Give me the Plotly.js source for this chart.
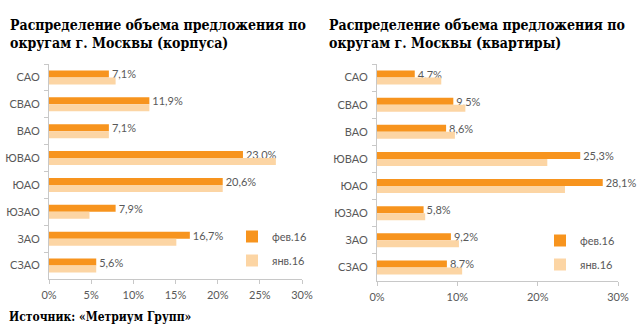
<!DOCTYPE html>
<html>
<head>
<meta charset="utf-8">
<script src="https://cdn.plot.ly/plotly-3.0.1.min.js"></script>
<style>html,body{margin:0;padding:0;background:#fff;}#chart{width:643px;height:329px;}</style>
</head>
<body>
<div id="chart"></div>
<script>
const districts = ['САО','СВАО','ВАО','ЮВАО','ЮАО','ЮЗАО','ЗАО','СЗАО'];
const seriesNames = ['фев.16','янв.16'];
const korpusaFeb = [7.1, 11.9, 7.1, 23.0, 20.6, 7.9, 16.7, 5.6];
const korpusaJan = [7.9, 11.9, 7.1, 26.9, 20.6, 4.8, 15.1, 5.6];
const kvartiryFeb = [4.7, 9.5, 8.6, 25.3, 28.1, 5.8, 9.2, 8.7];
const kvartiryJan = [8.0, 11.0, 9.7, 21.2, 23.4, 6.0, 10.2, 10.6];
const leftTicks = [0, 5, 10, 15, 20, 25, 30];
const rightTicks = [0, 10, 20, 30];
const titleLeft = 'Распределение объема предложения по<br>округам г. Москвы (корпуса)';
const titleRight = 'Распределение объема предложения по<br>округам г. Москвы (квартиры)';
const sourceText = 'Источник: «Метриум Групп»';

const FEB = '#F7941E', JAN = '#FCD5A4';
const labelFont = {family: 'Lato', size: 11, color: '#595959'};

function barTrace(x, name, color, xa, ya, legend, withText) {
  const t = {
    type: 'bar', orientation: 'h', x: x, y: districts, name: name,
    marker: {color: color}, xaxis: xa, yaxis: ya, legend: legend,
    legendgroup: legend + name, hoverinfo: 'skip', cliponaxis: false
  };
  if (withText) {
    t.texttemplate = '%{x:.1f}%';
    t.textposition = 'outside';
    t.constraintext = 'none';
    t.textfont = labelFont;
  }
  return t;
}

const data = [
  barTrace(korpusaFeb, seriesNames[0], FEB, 'x', 'y', 'legend', true),
  barTrace(korpusaJan, seriesNames[1], JAN, 'x', 'y', 'legend', false),
  barTrace(kvartiryFeb, seriesNames[0], FEB, 'x2', 'y2', 'legend2', true),
  barTrace(kvartiryJan, seriesNames[1], JAN, 'x2', 'y2', 'legend2', false)
];

const W = 643, H = 329;
const axisColor = '#C8C8C8';
function xAxis(dom, ticks, anchor) {
  return {
    domain: dom, anchor: anchor, range: [0, 30], tickmode: 'array', tickvals: ticks,
    ticktext: ticks.map(v => v + '%'),
    showgrid: false, zeroline: false, showline: true, linecolor: axisColor, linewidth: 1,
    ticks: 'outside', ticklen: 4, tickcolor: axisColor, tickfont: labelFont,
    ticklabelstandoff: 2, fixedrange: true
  };
}
function yAxis(dom, anchor) {
  return {
    domain: dom, anchor: anchor, autorange: 'reversed', type: 'category',
    showgrid: false, zeroline: false, showline: true, linecolor: axisColor, linewidth: 1,
    ticks: 'outside', ticklen: 4, tickcolor: axisColor, tickson: 'boundaries',
    tickfont: labelFont, ticklabelstandoff: 6, fixedrange: true
  };
}
const legendBase = {
  font: labelFont, bgcolor: 'rgba(0,0,0,0)', traceorder: 'grouped', tracegroupgap: 5,
  xanchor: 'left', yanchor: 'top', itemclick: false, itemdoubleclick: false
};
const serif = 'DejaVu Serif Condensed';
const titleFont = {family: serif, size: 14, color: '#000', weight: 'bold'};

const layout = {
  width: W, height: H, margin: {l: 0, r: 0, t: 0, b: 0},
  paper_bgcolor: '#fff', plot_bgcolor: '#fff',
  separators: ', ',
  barmode: 'group', bargap: 0.48, bargroupgap: 0,
  showlegend: true,
  xaxis: xAxis([49 / W, 302 / W], leftTicks, 'y'),
  yaxis: yAxis([1 - 279 / H, 1 - 64 / H], 'x'),
  xaxis2: xAxis([377 / W, 618 / W], rightTicks, 'y2'),
  yaxis2: yAxis([1 - 281 / H, 1 - 64 / H], 'x2'),
  legend: Object.assign({}, legendBase, {x: 232 / W, y: 1 - 222 / H}),
  legend2: Object.assign({}, legendBase, {x: 540 / W, y: 1 - 226 / H}),
  annotations: [
    {xref: 'paper', yref: 'paper', x: 8 / W, y: 1 - 15 / H, xanchor: 'left', yanchor: 'top',
     text: titleLeft, showarrow: false, align: 'left', font: titleFont},
    {xref: 'paper', yref: 'paper', x: 327 / W, y: 1 - 15 / H, xanchor: 'left', yanchor: 'top',
     text: titleRight, showarrow: false, align: 'left', font: titleFont},
    {xref: 'paper', yref: 'paper', x: 7 / W, y: 1 - 317 / H, xanchor: 'left', yanchor: 'middle',
     text: sourceText, showarrow: false, align: 'left',
     font: {family: serif, size: 12, color: '#000', weight: 'bold'}}
  ]
};

Plotly.newPlot('chart', data, layout, {staticPlot: true, displayModeBar: false});
</script>
</body>
</html>
